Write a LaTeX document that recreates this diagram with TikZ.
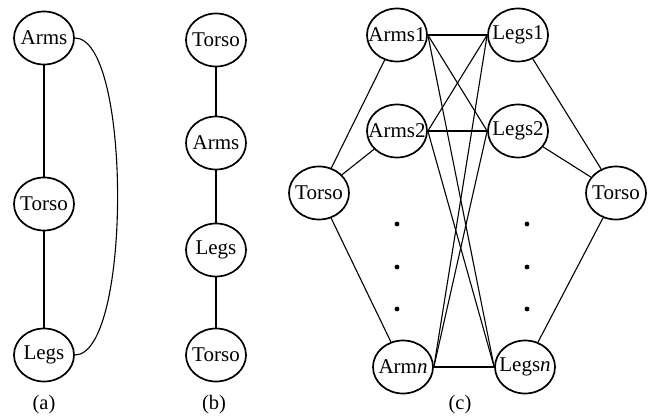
\documentclass[tikz,border=0pt]{standalone}
\usepackage{fontspec}
\setmainfont{Liberation Serif}
\usetikzlibrary{shapes.geometric}

\tikzset{
  part/.style={draw, shape=ellipse, line width=1.7pt, minimum width=60pt,
    minimum height=53pt, inner xsep=-9pt, inner ysep=0pt,
    font=\fontsize{21}{24}\selectfont},
  chain/.style={line width=1.7pt},
  link/.style={line width=1.1pt},
  flat/.style={line width=1.5pt},
  caption/.style={font=\fontsize{20.5}{24}\selectfont},
  dot/.style={fill, circle, inner sep=0pt, minimum size=4.8pt}
}

\begin{document}
\begin{tikzpicture}[x=1pt, y=-1pt]
\useasboundingbox (0,0) rectangle (652,419);

% (a) cyclic model
\node[part] (aA) at (44,38)  {Arms};
\node[part] (aT) at (44,204) {Torso};
\node[part] (aL) at (44,355) {Legs};
\draw[chain] (aA) -- (aT);
\draw[chain] (aT) -- (aL);
\draw[link] (aA.east) .. controls +(57,0) and +(57,0) .. (aL.east);
\node[caption] (capa) at (44,405) {(a)};

% (b) chain model
\node[part] (bT1) at (216,40)  {Torso};
\node[part] (bA)  at (216,143) {Arms};
\node[part] (bL)  at (216,250) {Legs};
\node[part] (bT2) at (216,355) {Torso};
\draw[chain] (bT1) -- (bA);
\draw[chain] (bA) -- (bL);
\draw[chain] (bL) -- (bT2);
\node[caption] (capb) at (214,405) {(b)};

% (c) layered model
\node[part] (cTl) at (319,193) {Torso};
\node[part] (cA1) at (397,35)  {Arms1};
\node[part] (cA2) at (397,131) {Arms2};
\node[part] (cAn) at (403,367) {Arm\textit{n}};
\node[part] (cL1) at (518,35)  {Legs1};
\node[part] (cL2) at (518,131) {Legs2};
\node[part] (cLn) at (525,367) {Legs\textit{n}};
\node[part] (cTr) at (616,193) {Torso};

\foreach \a in {cA1,cA2,cAn} \draw[link] (cTl) -- (\a);
\foreach \l in {cL1,cL2,cLn} \draw[link] (cTr) -- (\l);

\draw[flat] (cA1.east) -- (cL1.west);
\draw[link] (cA1.east) -- (cL2.west);
\draw[link] (cA1.east) -- (cLn.west);
\draw[link] (cA2.east) -- (cL1.west);
\draw[flat] (cA2.east) -- (cL2.west);
\draw[link] (cA2.east) -- (cLn.west);
\draw[link] (cAn.east) -- (cL1.west);
\draw[link] (cAn.east) -- (cL2.west);
\draw[flat] (cAn.east) -- (cLn.west);

\foreach \y [count=\i] in {224,267,309} {
  \node[dot] (dl\i) at (397,\y) {};
  \node[dot] (dr\i) at (527,\y) {};
}
\node[caption] (capc) at (460,405) {(c)};
\end{tikzpicture}
\end{document}
